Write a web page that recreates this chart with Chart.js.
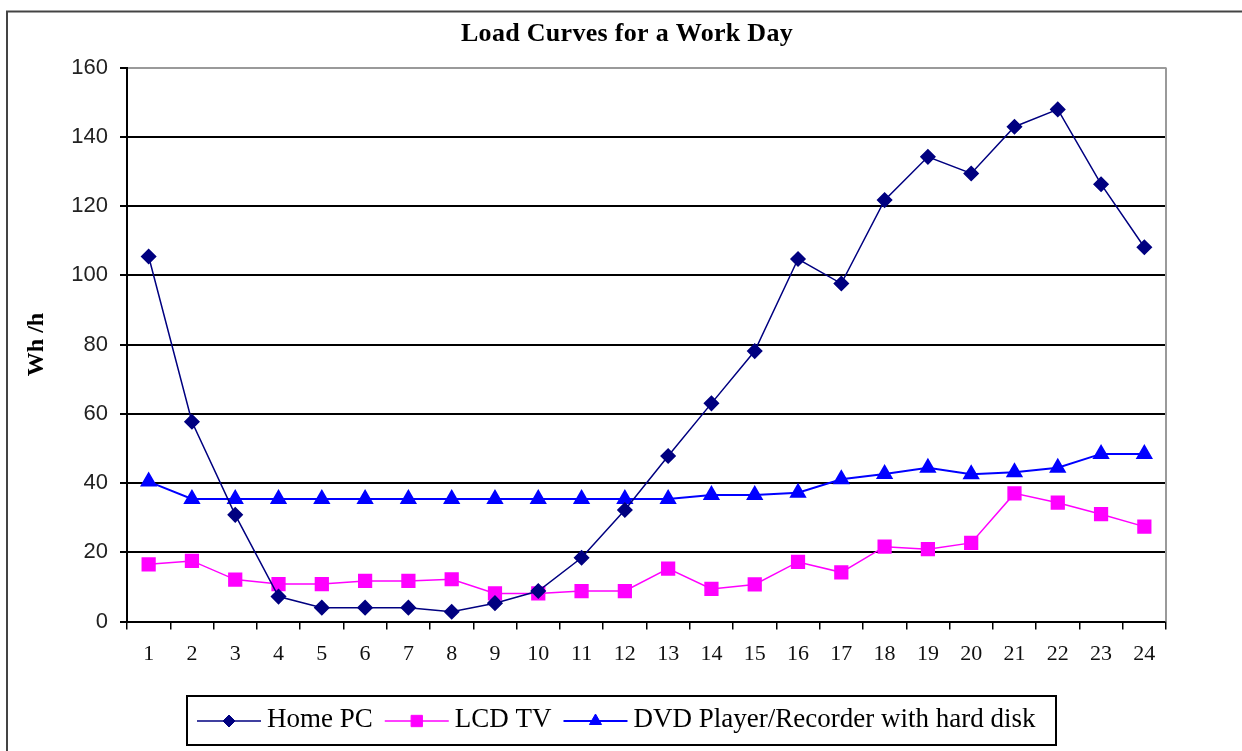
<!DOCTYPE html>
<html>
<head>
<meta charset="utf-8">
<title>Load Curves for a Work Day</title>
<script src="https://cdn.jsdelivr.net/npm/chart.js@4/dist/chart.umd.min.js"></script>
<style>
  body { margin: 0; background: #fff; }
  #wrap { width: 1242px; height: 751px; position: relative; }
</style>
</head>
<body>
<div id="wrap"><canvas id="load-chart"></canvas></div>
<script>
// Load curves, Wh per hour, for each hour of a work day
var chartTitle = 'Load Curves for a Work Day';
var hours = ['1', '2', '3', '4', '5', '6', '7', '8', '9', '10', '11', '12',
             '13', '14', '15', '16', '17', '18', '19', '20', '21', '22', '23', '24'];
var homePC = [105.4, 57.7, 30.8, 7.2, 4.0, 4.0, 4.0, 2.8, 5.3, 8.8, 18.4, 32.2,
              47.8, 63.0, 78.1, 104.7, 97.6, 121.7, 134.2, 129.4, 142.9, 147.9, 126.3, 108.1];
var lcdTV = [16.5, 17.5, 12.1, 10.8, 10.8, 11.7, 11.7, 12.2, 8.1, 8.1, 8.8, 8.8,
             15.3, 9.4, 10.7, 17.2, 14.2, 21.6, 20.9, 22.7, 37.0, 34.3, 31.0, 27.4];
var dvdRecorder = [40.4, 35.4, 35.4, 35.4, 35.4, 35.4, 35.4, 35.4, 35.4, 35.4, 35.4, 35.4,
                   35.4, 36.5, 36.5, 37.2, 41.1, 42.6, 44.4, 42.5, 43.1, 44.4, 48.4, 48.4];
var yTicks = [0, 20, 40, 60, 80, 100, 120, 140, 160];

// white page with the grey frame round the figure, the title, and the right edge of the plot
var framePlugin = {
  id: 'frame',
  beforeDraw: function(chart) {
    var c = chart.ctx;
    c.save();
    c.fillStyle = '#fff';
    c.fillRect(0, 0, chart.width, chart.height);
    c.strokeStyle = '#444';
    c.lineWidth = 2;
    c.beginPath();
    c.moveTo(7, chart.height);
    c.lineTo(7, 11.5);
    c.lineTo(chart.width, 11.5);
    c.stroke();
    // title, centred over the whole figure
    c.fillStyle = '#000';
    c.font = 'bold 26px "Liberation Serif"';
    c.letterSpacing = '0.3px';
    c.textAlign = 'center';
    c.textBaseline = 'middle';
    c.fillText(chartTitle, 627, 34);
    c.restore();
  },
  beforeDatasetsDraw: function(chart) {
    var a = chart.chartArea, c = chart.ctx;
    c.save();
    c.strokeStyle = '#9a9a9a';
    c.lineWidth = 2;
    c.beginPath();
    c.moveTo(a.right, a.top);
    c.lineTo(a.right, a.bottom);
    c.stroke();
    c.restore();
  }
};

// boxed legend: line with marker, then the label
var boxLegend = {
  id: 'boxLegend',
  afterDraw: function(chart) {
    var c = chart.ctx;
    c.save();
    c.strokeStyle = '#000';
    c.lineWidth = 2;
    c.strokeRect(187, 696, 869, 49);
    c.font = '27px "Liberation Serif"';
    c.textBaseline = 'alphabetic';
    var x = 197, y = 721;
    chart.data.datasets.forEach(function(ds) {
      c.strokeStyle = ds.borderColor;
      c.lineWidth = ds.borderWidth;
      c.beginPath();
      c.moveTo(x, y);
      c.lineTo(x + 64, y);
      c.stroke();
      c.fillStyle = ds.pointBackgroundColor;
      c.strokeStyle = ds.pointBackgroundColor;
      c.lineWidth = 1;
      Chart.helpers.drawPoint(c, {
        pointStyle: ds.pointStyle,
        radius: ds.pointRadius - 1,
        rotation: 0,
        borderWidth: 1
      }, x + 32, y);
      c.fillStyle = '#000';
      c.fillText(ds.label, x + 70, 727);
      x = x + 70 + c.measureText(ds.label).width + 12;
    });
    c.restore();
  }
};

var ctx = document.getElementById('load-chart').getContext('2d');
var loadChart = new Chart(ctx, {
  type: 'line',
  data: {
    labels: hours,
    datasets: [{
      label: 'Home PC',
      data: homePC,
      borderColor: '#000080',
      backgroundColor: '#000080',
      pointBackgroundColor: '#000080',
      pointBorderColor: '#000080',
      pointStyle: 'rectRot',
      pointRadius: 7,
      borderWidth: 1.5
    }, {
      label: 'LCD TV',
      data: lcdTV,
      borderColor: '#ff00ff',
      backgroundColor: '#ff00ff',
      pointBackgroundColor: '#ff00ff',
      pointBorderColor: '#ff00ff',
      pointStyle: 'rect',
      pointRadius: 9,
      borderWidth: 1.5
    }, {
      label: 'DVD Player/Recorder with hard disk',
      data: dvdRecorder,
      borderColor: '#0000ff',
      backgroundColor: '#0000ff',
      pointBackgroundColor: '#0000ff',
      pointBorderColor: '#0000ff',
      pointStyle: 'triangle',
      pointRadius: 8,
      borderWidth: 2
    }]
  },
  options: {
    responsive: true,
    maintainAspectRatio: false,
    animation: false,
    layout: {
      padding: { left: 0, right: 76, top: 67.5, bottom: 79.5 }
    },
    plugins: {
      legend: { display: false },
      tooltip: { enabled: false },
      title: { display: false }
    },
    scales: {
      x: {
        offset: true,
        grid: {
          offset: true,
          drawOnChartArea: false,
          tickLength: 8,
          color: '#000',
          lineWidth: 1.5
        },
        border: { color: '#000', width: 2 },
        ticks: {
          color: '#111',
          padding: 12,
          maxRotation: 0,
          font: { family: '"Liberation Serif"', size: 22 }
        },
        afterFit: function(scale) { scale.height = 50; }
      },
      y: {
        min: 0,
        max: 160,
        afterBuildTicks: function(scale) {
          scale.ticks = yTicks.map(function(v) { return { value: v }; });
        },
        grid: {
          color: function(c) { return c.tick && c.tick.value === 160 ? '#9a9a9a' : '#000'; },
          tickColor: '#000',
          lineWidth: 2,
          tickLength: 7
        },
        border: { color: '#000', width: 2 },
        ticks: {
          color: '#222',
          padding: 12,
          font: { family: '"Liberation Sans"', size: 22 }
        },
        title: {
          display: true,
          text: 'Wh /h',
          color: '#000',
          font: { family: '"Liberation Serif"', size: 24, weight: 'bold' },
          padding: { top: 22.6, bottom: 0 }
        },
        afterFit: function(scale) { scale.width = 127; }
      }
    }
  },
  plugins: [framePlugin, boxLegend]
});
</script>
</body>
</html>
